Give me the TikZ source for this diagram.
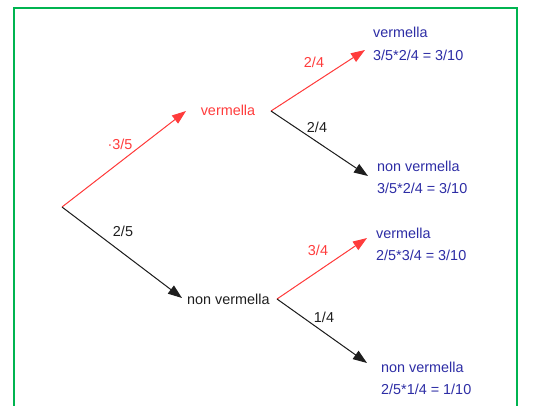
\documentclass[tikz,border=0pt]{standalone}
\usepackage{fontspec}
\setmainfont{Liberation Sans}
\usetikzlibrary{arrows.meta}
\definecolor{myred}{RGB}{255,60,60}
\definecolor{myblue}{RGB}{45,45,165}
\definecolor{mygreen}{RGB}{0,180,80}
\definecolor{mygray}{RGB}{30,30,30}
\begin{document}
\begin{tikzpicture}[x=1pt,y=-1pt,
  txt/.style={inner sep=0pt,font=\fontsize{14.4}{17}\selectfont},
  res/.style={txt,anchor=west,text=myblue},
  lab/.style={txt},
  redarr/.style={draw=myred,line width=1pt,-{Triangle[length=14pt,width=10pt]},fill=myred},
  blkarr/.style={draw=mygray,line width=1pt,-{Triangle[length=14pt,width=10pt]},fill=mygray}]
\useasboundingbox (0,0) rectangle (539,405);
\begin{scope}
\clip (0,0) rectangle (539,405);
\draw[mygreen,line width=2.2pt] (14,8) rectangle (517,430);
\end{scope}
% points
\coordinate (root) at (62,207);
\coordinate (t1) at (186,111);
\coordinate (t2) at (182,298);
\coordinate (b1) at (271,111);
\coordinate (b2) at (277,299);
\coordinate (t11) at (365,50);
\coordinate (t12) at (368,176);
\coordinate (t21) at (367,238);
\coordinate (t22) at (367,363);
% nodes
\node[txt,text=myred] (v1) at (228,110) {vermella};
\node[txt,text=mygray,anchor=west] (n1) at (187,299) {non vermella};
\node[res] (r1a) at (373,32) {vermella};
\node[res] (r1b) at (373,55) {3/5*2/4 = 3/10};
\node[res] (r2a) at (377,166) {non vermella};
\node[res] (r2b) at (377,188) {3/5*2/4 = 3/10};
\node[res] (r3a) at (376,233) {vermella};
\node[res] (r3b) at (376,255) {2/5*3/4 = 3/10};
\node[res] (r4a) at (381,367) {non vermella};
\node[res] (r4b) at (381,389) {2/5*1/4 = 1/10};
% labels
\node[lab,text=myred] (l1) at (120,144) {·3/5};
\node[lab,text=mygray] (l2) at (123,231) {2/5};
\node[lab,text=myred] (l3) at (314,62) {2/4};
\node[lab,text=mygray] (l4) at (317,127) {2/4};
\node[lab,text=myred] (l5) at (318,250) {3/4};
\node[lab,text=mygray] (l6) at (324,317) {1/4};
% connectors
\draw[redarr] (root) -- (t1);
\draw[blkarr] (root) -- (t2);
\draw[redarr] (b1) -- (t11);
\draw[blkarr] (b1) -- (t12);
\draw[redarr] (b2) -- (t21);
\draw[blkarr] (b2) -- (t22);
\end{tikzpicture}
\end{document}
